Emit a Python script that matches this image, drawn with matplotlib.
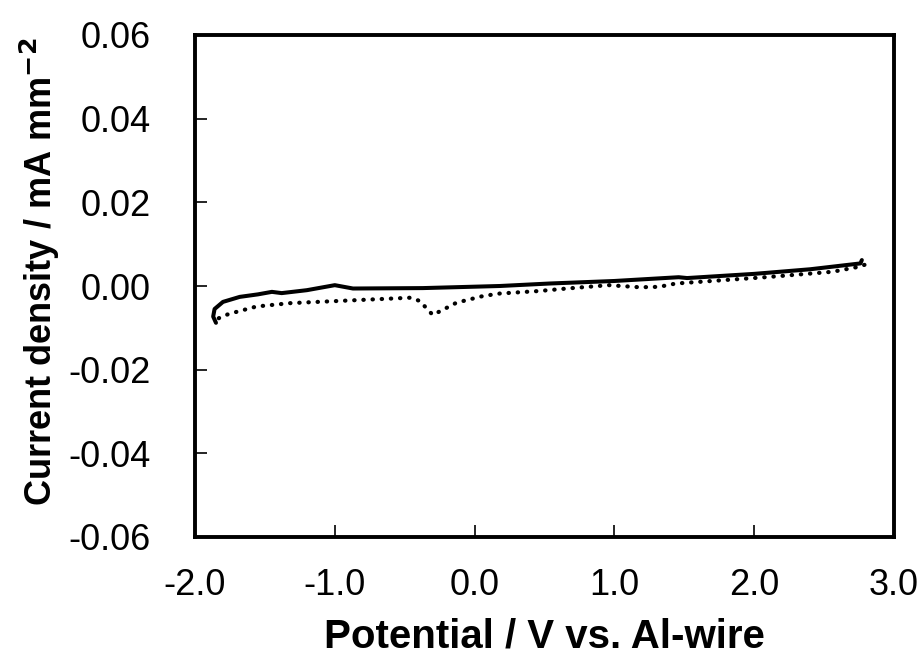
import matplotlib
matplotlib.use("Agg")
import matplotlib.pyplot as plt

# Solid trace (potential V vs Al-wire, current density mA mm^-2)
solid_v = [-1.85, -1.87, -1.86, -1.80, -1.68, -1.55, -1.45, -1.38, -1.20, -1.00, -0.87,
           -0.37, 0.18, 0.54, 1.00, 1.46, 1.52, 2.00, 2.40, 2.76, 2.77]
solid_i = [-0.0088, -0.0073, -0.0055, -0.0038, -0.0026, -0.0020, -0.0014, -0.0017, -0.0010,
           0.0002, -0.0006, -0.0005, 0.0000, 0.0006, 0.0012, 0.0021, 0.0019, 0.0029, 0.0040,
           0.0054, 0.0062]

# Dotted trace
dot_v = [-1.83, -1.76, -1.56, -1.32, -0.99, -0.46, -0.39, -0.345, -0.30, -0.245, -0.13,
         0.06, 0.18, 0.46, 0.66, 0.96, 1.18, 1.32, 1.44, 2.08, 2.56, 2.75, 2.81]
dot_i = [-0.0077, -0.0067, -0.0049, -0.0041, -0.0036, -0.0028, -0.0036, -0.0053, -0.0069,
         -0.0060, -0.0040, -0.0024, -0.0018, -0.0012, -0.0006, 0.0002, -0.0003, -0.0002,
         0.0006, 0.0021, 0.0034, 0.0046, 0.0053]

xticks = [-2.0, -1.0, 0.0, 1.0, 2.0, 3.0]
yticks = [-0.06, -0.04, -0.02, 0.00, 0.02, 0.04, 0.06]

plt.rcParams['font.family'] = ['Liberation Sans', 'DejaVu Sans']

fig = plt.figure(figsize=(9.18, 6.59), dpi=100)
ax = fig.add_axes([195/918, 1 - 537/659, (894-195)/918, (537-35)/659])

ax.plot(solid_v, solid_i, color='black', lw=2.9, solid_capstyle='round', solid_joinstyle='round')
ax.plot(dot_v, dot_i, color='black', lw=3.0, linestyle=(0, (0.1, 2.1)), dash_capstyle='round')

ax.set_xlim(-2.0, 3.0)
ax.set_ylim(-0.06, 0.06)
ax.set_xticks(xticks)
ax.set_xticklabels([f"{t:.1f}" for t in xticks])
ax.set_yticks(yticks)
ax.set_yticklabels([f"{t:.2f}" for t in yticks])

for s in ax.spines.values():
    s.set_linewidth(2.8)
ax.tick_params(direction='in', length=8.5, width=1.2, labelsize=26,
               top=False, right=False)
ax.tick_params(axis='y', pad=32)
ax.tick_params(axis='x', pad=22)

ax.set_xlabel('Potential / V vs. Al-wire', fontsize=29, fontweight='bold')
ax.set_ylabel(r'Current density / mA mm$^{\mathbf{-2}}$', fontsize=26, fontweight='bold')
ax.xaxis.set_label_coords(0.5, (537 - 617) / 502)
ax.yaxis.set_label_coords((62 - 195) / 699, (537 - 272) / 502)

fig.savefig('out.png', dpi=100)
